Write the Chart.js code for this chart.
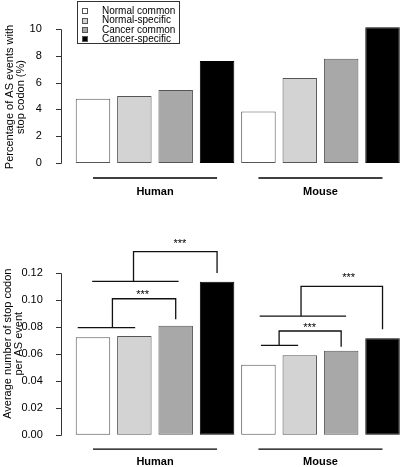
<!DOCTYPE html>
<html>
<head>
<meta charset="utf-8">
<script src="https://cdn.jsdelivr.net/npm/chart.js@4.4.1/dist/chart.umd.min.js"></script>
<style>
html,body{margin:0;padding:0;width:400px;height:467px;overflow:hidden;background:#fff;}
canvas{position:absolute;left:0;}
#c1{top:0;}
#c2{top:200px;}
</style>
</head>
<body>
<canvas id="c1" width="410" height="200"></canvas>
<canvas id="c2" width="410" height="267"></canvas>
<script>
// ---- data ----
const groups = ['Human', 'Mouse'];
const seriesNames = ['Normal common', 'Normal-specific', 'Cancer common', 'Cancer-specific'];
const pctHuman = [4.79, 5.0, 5.45, 7.62];
const pctMouse = [3.85, 6.34, 7.79, 10.13];
const avgHuman = [0.0721, 0.0731, 0.0807, 0.1133];
const avgMouse = [0.0519, 0.0588, 0.0622, 0.0714];
const topTicks = [0, 2, 4, 6, 8, 10];
const bottomTicks = [0, 0.02, 0.04, 0.06, 0.08, 0.10, 0.12];
const topTitle = ['Percentage of AS events with', 'stop codon (%)'];
const bottomTitle = ['Average number of stop codon', 'per AS event'];
// significance annotations (x in bar-index units, y in data units)
const sigBrackets = [
  {line: [-0.37, 1.02, 0.0793], from: 0.47, to: 2.0, top: 0.1007, end: 0.0855, star: [1.2, 0.1064]},
  {line: [-0.02, 2.07, 0.1136], from: 0.98, to: 3.0, top: 0.1356, end: 0.1198, star: [2.1, 0.1437]},
  {line: [4.06, 4.96, 0.0662], from: 4.5, to: 6.0, top: 0.0768, end: 0.0652, star: [5.24, 0.0820]},
  {line: [4.03, 6.12, 0.0879], from: 5.03, to: 7.0, top: 0.1099, end: 0.0781, star: [6.18, 0.1188]}
];

const fills = ['#ffffff', '#d3d3d3', '#a8a8a8', '#000000'];
const borders = ['#555555', '#555555', '#555555', '#000000'];
const FONT = '"Liberation Sans", Arial, Helvetica, sans-serif';

const labels = [];
groups.forEach(g => seriesNames.forEach(s => labels.push(g + ' ' + s)));

function decorPlugin(cfg) {
  return {
    id: 'decor_' + cfg.name,
    afterDraw(chart) {
      const ctx = chart.ctx;
      const xs = chart.scales.x, ys = chart.scales.y;
      const ca = chart.chartArea;
      const px = i => xs.getPixelForValue(i);
      ctx.save();
      // y axis line and ticks
      ctx.strokeStyle = '#333';
      ctx.lineWidth = 1;
      const ticks = cfg.ticks;
      const axX = 61.5;
      ctx.beginPath();
      ctx.moveTo(axX, Math.round(ys.getPixelForValue(ticks[0])) + 0.5);
      ctx.lineTo(axX, Math.round(ys.getPixelForValue(ticks[ticks.length - 1])) + 0.5);
      ticks.forEach(t => {
        const y = Math.round(ys.getPixelForValue(t)) + 0.5;
        ctx.moveTo(axX, y);
        ctx.lineTo(axX - 5.5, y);
      });
      ctx.stroke();
      // y title
      ctx.fillStyle = '#000';
      ctx.font = '11px ' + FONT;
      ctx.textAlign = 'center';
      ctx.textBaseline = 'middle';
      const cy = (ca.top + ca.bottom) / 2 + cfg.titleDy;
      cfg.title.forEach((t, k) => {
        ctx.save();
        ctx.translate(cfg.titleX[k], cy);
        ctx.rotate(-Math.PI / 2);
        ctx.fillText(t, 0, 0);
        ctx.restore();
      });
      // group lines + labels
      ctx.strokeStyle = '#000';
      ctx.lineWidth = 1.3;
      ctx.font = 'bold 11px ' + FONT;
      groups.forEach((g, gi) => {
        const a = px(gi * 4), b = px(gi * 4 + 3);
        const y = ca.bottom + cfg.lineDy;
        ctx.beginPath();
        ctx.moveTo(a, y);
        ctx.lineTo(b, y);
        ctx.stroke();
        ctx.fillText(g, (a + b) / 2, ca.bottom + cfg.labelDy);
      });
      // legend
      if (cfg.legend) {
        ctx.lineWidth = 1;
        ctx.strokeStyle = '#333';
        ctx.strokeRect(77.5, 1.5, 102, 42);
        ctx.font = '10px ' + FONT;
        ctx.textAlign = 'left';
        seriesNames.forEach((s, k) => {
          const y = 11.2 + k * 9.3;
          ctx.fillStyle = fills[k];
          ctx.fillRect(82, Math.round(y - 3), 6, 6);
          ctx.strokeStyle = '#555';
          ctx.strokeRect(82.5, Math.round(y - 3) + 0.5, 5, 5);
          ctx.fillStyle = '#000';
          ctx.fillText(s, 102, y);
        });
      }
      // significance brackets
      if (cfg.brackets) {
        ctx.strokeStyle = '#111';
        ctx.lineWidth = 1.3;
        ctx.textAlign = 'center';
        ctx.textBaseline = 'alphabetic';
        ctx.font = '11px ' + FONT;
        cfg.brackets.forEach(b => {
          const yl = ys.getPixelForValue(b.line[2]);
          ctx.beginPath();
          ctx.moveTo(px(b.line[0]), yl);
          ctx.lineTo(px(b.line[1]), yl);
          ctx.moveTo(px(b.from), yl);
          ctx.lineTo(px(b.from), ys.getPixelForValue(b.top));
          ctx.lineTo(px(b.to), ys.getPixelForValue(b.top));
          ctx.lineTo(px(b.to), ys.getPixelForValue(b.end));
          ctx.stroke();
          ctx.fillStyle = '#000';
          ctx.fillText('***', px(b.star[0]), ys.getPixelForValue(b.star[1]) + 6.5);
        });
      }
      ctx.restore();
    }
  };
}

function makeChart(id, values, ticks, opts) {
  return new Chart(document.getElementById(id), {
    type: 'bar',
    data: {
      labels: labels,
      datasets: [{
        data: values,
        backgroundColor: labels.map((_, i) => fills[i % 4]),
        borderColor: labels.map((_, i) => borders[i % 4]),
        borderWidth: 1,
        borderSkipped: false,
        barPercentage: 0.834,
        categoryPercentage: 1.0,
        clip: false
      }]
    },
    options: {
      responsive: false,
      animation: false,
      devicePixelRatio: 1,
      layout: {padding: {top: opts.padTop, bottom: opts.padBottom, left: 0, right: 6.8}},
      plugins: {legend: {display: false}, tooltip: {enabled: false}},
      scales: {
        x: {display: false, offset: true},
        y: {
          min: ticks[0],
          max: ticks[ticks.length - 1],
          grid: {display: false},
          border: {display: false},
          afterFit: s => { s.width = 72.3; },
          afterBuildTicks: s => { s.ticks = ticks.map(v => ({value: v})); },
          ticks: {
            padding: opts.tickPad,
            color: '#000',
            font: {family: FONT, size: 11},
            callback: v => opts.fmt(v)
          }
        }
      }
    },
    plugins: [decorPlugin(opts.decor)]
  });
}

makeChart('c1', pctHuman.concat(pctMouse), topTicks, {
  padTop: 9.3, padBottom: 37, tickPad: 22.5,
  fmt: v => String(Math.round(v)),
  decor: {name: 'top', ticks: topTicks, title: topTitle, titleX: [9.5, 21], titleDy: 1,
          lineDy: 15, labelDy: 28.5, legend: true}
});

makeChart('c2', avgHuman.concat(avgMouse), bottomTicks, {
  padTop: 72.7, padBottom: 32.3, tickPad: 21.5,
  fmt: v => v.toFixed(2),
  decor: {name: 'bot', ticks: bottomTicks, title: bottomTitle, titleX: [7.5, 19], titleDy: -10,
          lineDy: 14.5, labelDy: 27.5, legend: false, brackets: sigBrackets}
});
</script>
</body>
</html>
